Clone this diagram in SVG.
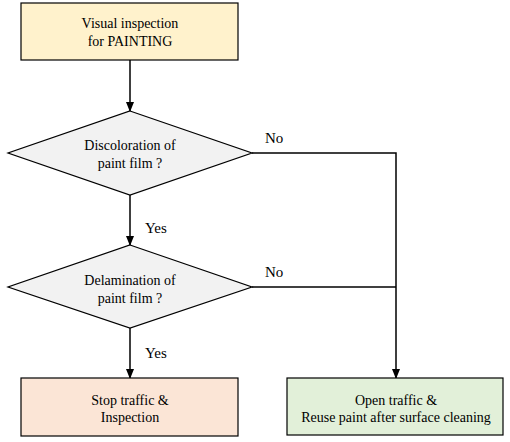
<svg xmlns="http://www.w3.org/2000/svg" width="510" height="442" viewBox="0 0 510 442" font-family="Liberation Serif, Times New Roman, DejaVu Serif, serif">
<style>
text{font-family:'Liberation Serif','Times New Roman','DejaVu Serif',serif;font-size:14px;fill:#000;text-anchor:middle}
.lbl{text-anchor:start;font-size:15px}
.n{stroke:#000;stroke-width:1.2}
.c{stroke:#000;stroke-width:1.5;fill:none}
</style>
<defs>
<marker id="ah" markerWidth="10" markerHeight="10" refX="9" refY="5" orient="auto" markerUnits="userSpaceOnUse">
<path d="M0,1 L10,5 L0,9 Z" fill="#000"/>
</marker>
</defs>
<g id="connectors">
<line class="c" x1="130" y1="60" x2="130" y2="111" marker-end="url(#ah)"/>
<line class="c" x1="130" y1="195" x2="130" y2="245" marker-end="url(#ah)"/>
<line class="c" x1="130" y1="328" x2="130" y2="378" marker-end="url(#ah)"/>
<polyline class="c" points="252,153 396,153 396,378" marker-end="url(#ah)"/>
<line class="c" x1="252" y1="287" x2="396" y2="287"/>
<text x="145" y="233" class="lbl">Yes</text>
<text x="145" y="358" class="lbl">Yes</text>
<text x="265" y="143" class="lbl">No</text>
<text x="265" y="277" class="lbl">No</text>
</g>
<g id="start">
<rect class="n" x="21" y="3" width="217" height="57" fill="#FFF2CC"/>
<text x="130" y="28">Visual inspection</text>
<text x="130" y="46">for PAINTING</text>
</g>
<g id="discoloration">
<polygon class="n" points="130,111 252,153 130,195 8,153" fill="#F2F2F2"/>
<text x="130" y="150">Discoloration of</text>
<text x="130" y="168">paint film ?</text>
</g>
<g id="delamination">
<polygon class="n" points="130,245 252,287 130,328 8,287" fill="#F2F2F2"/>
<text x="130" y="285">Delamination of</text>
<text x="130" y="303">paint film ?</text>
</g>
<g id="stop">
<rect class="n" x="21" y="378" width="217" height="58" fill="#FBE5D6"/>
<text x="130" y="405">Stop traffic &amp;</text>
<text x="130" y="422">Inspection</text>
</g>
<g id="open">
<rect class="n" x="287" y="378" width="216" height="57" fill="#E2F0D9"/>
<text x="396" y="405">Open traffic &amp;</text>
<text x="396" y="422">Reuse paint after surface cleaning</text>
</g>
</svg>
